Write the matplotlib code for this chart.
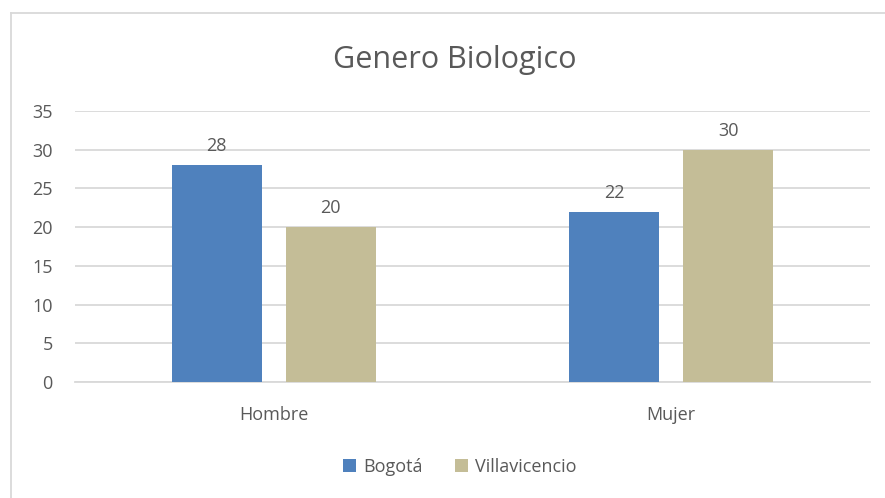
import matplotlib
matplotlib.use("Agg")
import matplotlib.pyplot as plt
import numpy as np
from matplotlib.lines import Line2D

categories = ["Hombre", "Mujer"]
series_names = ["Bogotá", "Villavicencio"]
bogota = [28, 22]
villavicencio = [20, 30]
yticks = [0, 5, 10, 15, 20, 25, 30, 35]

colors = ["#4F81BD", "#C4BD97"]
txt = "#595959"
plt.rcParams['font.family'] = ['Open Sans', 'DejaVu Sans']
fs = 13

W, H = 885, 498
fig = plt.figure(figsize=(W/100, H/100), dpi=100)
ax = fig.add_axes([75/W, 1-382/H, (870-75)/W, (382-111)/H])

x = np.arange(len(categories))
bw = 90/397.5
off = 57/397.5
for vals, c, name, o in [(bogota, colors[0], series_names[0], -off), (villavicencio, colors[1], series_names[1], off)]:
    ax.bar(x + o, vals, width=bw, color=c, label=name, zorder=3)
    for xi, v in zip(x + o, vals):
        ax.annotate(str(v), (xi, v), xytext=(0, 7), textcoords="offset points",
                    ha="center", va="bottom", fontsize=fs, color=txt)

ax.set_xlim(-0.5, 1.5)
ax.set_ylim(0, 35)
ax.set_yticks(yticks)
ax.set_yticklabels([str(t) for t in yticks], fontsize=fs, color=txt)
ax.set_xticks(x)
ax.set_xticklabels(categories, fontsize=fs, color=txt)
ax.tick_params(axis='both', length=0)
ax.tick_params(axis='y', pad=16)
ax.tick_params(axis='x', pad=17)
ax.yaxis.grid(True, color="#D9D9D9", linewidth=1.3, zorder=0)
for s in ["top", "right", "left"]:
    ax.spines[s].set_visible(False)
ax.spines["bottom"].set_color("#D9D9D9")
ax.spines["bottom"].set_linewidth(1.3)

fig.text(455/W, 1-60/H, "Genero Biologico", ha="center", va="center", fontsize=22, color=txt)

fig.legend(loc="center", bbox_to_anchor=(460/W, 1-467/H), ncol=2, frameon=False,
           fontsize=fs, handlelength=0.7, handleheight=0.7, handletextpad=0.4,
           columnspacing=1.8, labelcolor=txt)

# chart border
fig.add_artist(Line2D([11/W, 1], [1-13/H, 1-13/H], color="#D9D9D9", linewidth=1.3, transform=fig.transFigure))
fig.add_artist(Line2D([11/W, 11/W], [0, 1-13/H], color="#D9D9D9", linewidth=1.3, transform=fig.transFigure))

fig.savefig("out.png", dpi=100)
